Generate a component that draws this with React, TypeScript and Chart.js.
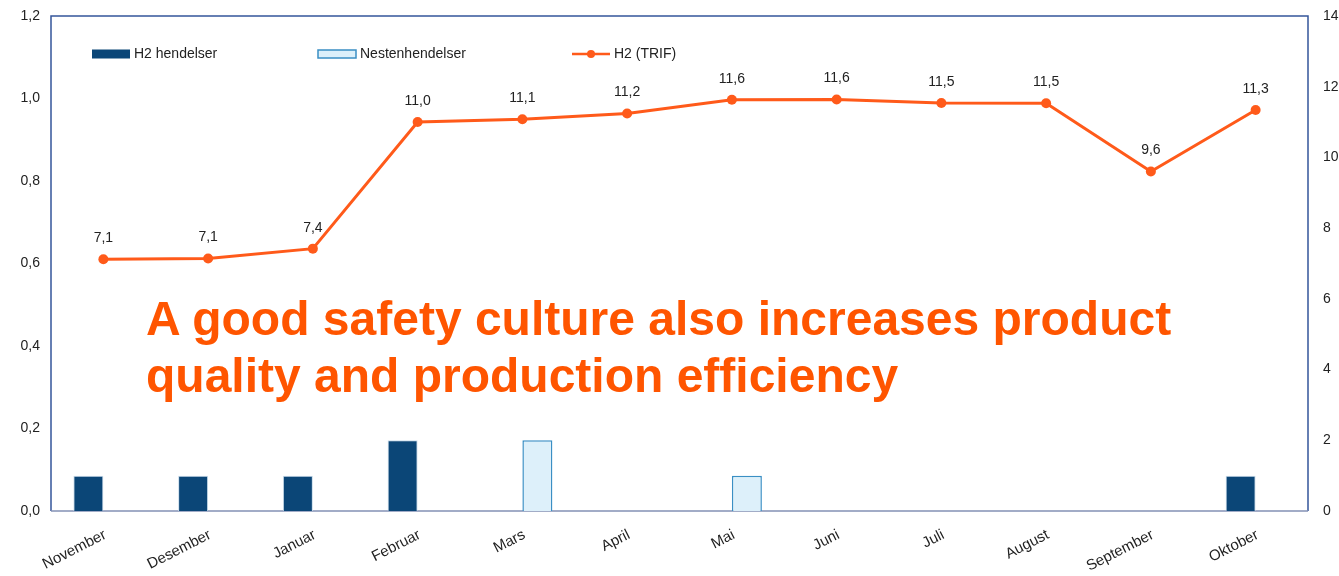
import React, { useEffect, useRef } from "react";
import { Chart, registerables } from "chart.js";

Chart.register(...registerables);

const months = ["November", "Desember", "Januar", "Februar", "Mars", "April", "Mai", "Juni", "Juli", "August", "September", "Oktober"];
const h2Events = [1, 1, 1, 2, 0, 0, 0, 0, 0, 0, 0, 1];
const nearMisses = [0, 0, 0, 0, 2, 0, 1, 0, 0, 0, 0, 0];
const trif = [7.12, 7.14, 7.42, 11.0, 11.08, 11.24, 11.63, 11.64, 11.54, 11.53, 9.6, 11.34];
const leftAxis = { min: 0, max: 1.2, step: 0.2 };
const rightAxis = { min: 0, max: 14, step: 2 };
const legendLabels = ["H2 hendelser", "Nestenhendelser", "H2 (TRIF)"];
const headline = ["A good safety culture also increases product", "quality and production efficiency"];

const FONT = '"Liberation Sans", Arial, sans-serif';
const DARK = "#0B4677";
const LIGHT_FILL = "#DDF0FA";
const LIGHT_BORDER = "#3A8FC4";
const ORANGE = "#FF5A1A";
const FRAME = "#34559A";
const TEXT = "#222222";

const comma = (v: number) => v.toFixed(1).replace(".", ",");

const framePlugin = {
  id: "frame",
  beforeDatasetsDraw(chart: any) {
    const { ctx, chartArea: a } = chart;
    ctx.save();
    ctx.lineWidth = 1.5;
    ctx.strokeStyle = FRAME;
    ctx.beginPath();
    ctx.moveTo(a.left, a.bottom);
    ctx.lineTo(a.left, a.top);
    ctx.lineTo(a.right, a.top);
    ctx.lineTo(a.right, a.bottom);
    ctx.stroke();
    ctx.strokeStyle = "#8391B5";
    ctx.beginPath();
    ctx.moveTo(a.left, a.bottom);
    ctx.lineTo(a.right, a.bottom);
    ctx.stroke();
    ctx.restore();
  },
};

const labelsPlugin = {
  id: "pointLabels",
  afterDatasetsDraw(chart: any) {
    const { ctx } = chart;
    const meta = chart.getDatasetMeta(2);
    ctx.save();
    ctx.font = `14px ${FONT}`;
    ctx.fillStyle = TEXT;
    ctx.textAlign = "center";
    ctx.textBaseline = "middle";
    meta.data.forEach((pt: any, i: number) => {
      ctx.fillText(comma(trif[i]), pt.x, pt.y - 21);
    });
    ctx.restore();
  },
};

const legendPlugin = {
  id: "customLegend",
  afterDraw(chart: any) {
    const { ctx, chartArea: a } = chart;
    const y = a.top + 38;
    ctx.save();
    ctx.font = `14px ${FONT}`;
    ctx.fillStyle = TEXT;
    ctx.textBaseline = "middle";
    ctx.textAlign = "left";
    let x = a.left + 41;
    ctx.fillStyle = DARK;
    ctx.fillRect(x, y - 4.5, 38, 9);
    ctx.fillStyle = TEXT;
    ctx.fillText(legendLabels[0], x + 42, y);
    x = a.left + 267;
    ctx.fillStyle = LIGHT_FILL;
    ctx.fillRect(x, y - 4, 38, 8);
    ctx.strokeStyle = LIGHT_BORDER;
    ctx.lineWidth = 1.5;
    ctx.strokeRect(x, y - 4, 38, 8);
    ctx.fillStyle = TEXT;
    ctx.fillText(legendLabels[1], x + 42, y);
    x = a.left + 521;
    ctx.strokeStyle = ORANGE;
    ctx.lineWidth = 2.5;
    ctx.beginPath();
    ctx.moveTo(x, y);
    ctx.lineTo(x + 38, y);
    ctx.stroke();
    ctx.fillStyle = ORANGE;
    ctx.beginPath();
    ctx.arc(x + 19, y, 4, 0, Math.PI * 2);
    ctx.fill();
    ctx.fillStyle = TEXT;
    ctx.fillText(legendLabels[2], x + 42, y);
    ctx.restore();
  },
};

export default function App() {
  const canvasRef = useRef<HTMLCanvasElement | null>(null);

  useEffect(() => {
    document.body.style.margin = "0";
    const canvas = canvasRef.current;
    if (!canvas) return;
    const chart = new Chart(canvas, {
      type: "bar",
      data: {
        labels: months,
        datasets: [
          {
            type: "bar",
            label: legendLabels[0],
            data: h2Events,
            yAxisID: "y1",
            backgroundColor: DARK,
            borderColor: "#C9DCEB",
            borderWidth: 1,
            categoryPercentage: 0.573,
            barPercentage: 1,
            order: 2,
          },
          {
            type: "bar",
            label: legendLabels[1],
            data: nearMisses,
            yAxisID: "y1",
            backgroundColor: LIGHT_FILL,
            borderColor: LIGHT_BORDER,
            borderWidth: 1.5,
            categoryPercentage: 0.573,
            barPercentage: 1,
            order: 2,
          },
          {
            type: "line",
            label: legendLabels[2],
            data: trif,
            yAxisID: "y1",
            borderColor: ORANGE,
            backgroundColor: ORANGE,
            borderWidth: 3,
            pointRadius: 5,
            pointBackgroundColor: ORANGE,
            pointBorderWidth: 0,
            tension: 0,
            order: 1,
          } as any,
        ],
      },
      options: {
        animation: false,
        responsive: false,
        maintainAspectRatio: false,
        layout: { padding: { top: 16, left: 0, right: 0, bottom: 0 } },
        plugins: {
          legend: { display: false },
          tooltip: { enabled: false },
          title: { display: false },
        },
        scales: {
          x: {
            offset: true,
            grid: { display: false, drawTicks: false },
            border: { display: false },
            ticks: {
              color: TEXT,
              font: { family: FONT, size: 15 },
              minRotation: 27,
              maxRotation: 27,
              padding: 15,
              labelOffset: 2,
              autoSkip: false,
            },
            afterFit(scale: any) {
              scale.height = 65;
            },
          },
          y: {
            position: "left",
            min: leftAxis.min,
            max: leftAxis.max,
            grid: { display: false, drawTicks: false },
            border: { display: false },
            ticks: {
              stepSize: leftAxis.step,
              color: TEXT,
              font: { family: FONT, size: 14 },
              padding: 11,
              callback: (v: any) => comma(Number(v)),
            },
            afterFit(scale: any) {
              scale.width = 51;
              scale.paddingTop = 0;
              scale.paddingBottom = 0;
            },
          },
          y1: {
            position: "right",
            min: rightAxis.min,
            max: rightAxis.max,
            grid: { display: false, drawTicks: false },
            border: { display: false },
            ticks: {
              stepSize: rightAxis.step,
              color: TEXT,
              font: { family: FONT, size: 14 },
              padding: 15,
            },
            afterFit(scale: any) {
              scale.width = 42;
              scale.paddingTop = 0;
              scale.paddingBottom = 0;
            },
          },
        },
      },
      plugins: [framePlugin, labelsPlugin, legendPlugin],
    });
    return () => chart.destroy();
  }, []);

  return (
    <div style={{ position: "relative", width: 1339, height: 576, overflow: "hidden", background: "#fff" }}>
      <canvas ref={canvasRef} width={1350} height={576} style={{ position: "absolute", left: 0, top: 0, width: 1350, height: 576 }} />
      <div
        style={{
          position: "absolute",
          left: 146,
          top: 290,
          fontFamily: FONT,
          fontWeight: "bold",
          fontSize: 48,
          lineHeight: "57px",
          color: "#FF5500",
          whiteSpace: "nowrap",
          pointerEvents: "none",
        }}
      >
        {headline.map((l, i) => (
          <div key={i}>{l}</div>
        ))}
      </div>
    </div>
  );
}
